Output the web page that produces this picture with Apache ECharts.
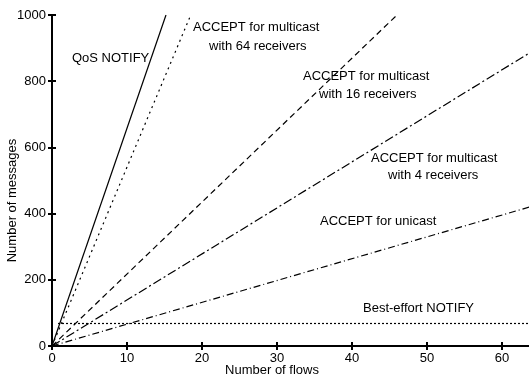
<!DOCTYPE html>
<html>
<head>
<meta charset="utf-8">
<script src="https://cdn.jsdelivr.net/npm/echarts@6/dist/echarts.min.js"></script>
<style>
  html, body { margin: 0; padding: 0; background: #fff; }
  #chart { width: 529px; height: 378px; }
</style>
</head>
<body>
<div id="chart"></div>
<script>
// values (number of flows, number of messages)
const qosNotify = [[0, 0], [15.2, 1000]];
const accept64 = [[0, 0], [18.5, 1000]];
const accept16 = [[0, 0], [46, 1000]];
const accept4 = [[0, 0], [64, 890]];
const acceptUnicast = [[0, 0], [64, 422]];
const bestEffort = [[0.8, 68], [64, 68]];

const xTicks = [0, 10, 20, 30, 40, 50, 60];
const yTicks = [0, 200, 400, 600, 800, 1000];

const font = 'Liberation Sans, Arial, sans-serif';

let myChart = echarts.init(document.getElementById('chart'));

function line(data, type) {
  return {
    type: 'line',
    data: data,
    symbol: 'none',
    clip: true,
    lineStyle: { color: '#000', width: 1.2, type: type },
    animation: false
  };
}

function label(x, y, text) {
  return { type: 'text', left: x, top: y, style: { text: text, font: '13px ' + font, fill: '#000' } };
}

const tick = { inside: true, length: 4, lineStyle: { color: '#000', width: 2 } };
const axisLine = { lineStyle: { color: '#000', width: 2 } };

myChart.setOption({
  backgroundColor: '#fff',
  grid: { left: 52, top: 15, width: 480, height: 331, outerBoundsMode: 'none', containLabel: false },
  xAxis: [{
    type: 'value',
    min: 0, max: 64, interval: 10,
    name: 'Number of flows',
    nameLocation: 'middle',
    nameGap: 18,
    nameMoveOverlap: false,
    nameTextStyle: { color: '#000', fontSize: 13, fontFamily: font, padding: [0, 40, 0, 0] },
    axisLine: axisLine,
    axisTick: tick,
    axisLabel: {
      color: '#000', fontSize: 13, fontFamily: font, margin: 6,
      formatter: v => xTicks.indexOf(v) >= 0 ? String(v) : ''
    },
    splitLine: { show: false }
  }, {
    type: 'value', position: 'top',
    min: 0, max: 64, interval: 10,
    axisLine: axisLine, axisTick: tick,
    axisLabel: { show: false }, splitLine: { show: false }
  }],
  yAxis: [{
    type: 'value',
    min: 0, max: 1000, interval: 200,
    name: 'Number of messages',
    nameLocation: 'middle',
    nameGap: 33,
    nameMoveOverlap: false,
    nameTextStyle: { color: '#000', fontSize: 13, fontFamily: font, padding: [0, 40, 0, 0] },
    axisLine: axisLine,
    axisTick: tick,
    axisLabel: {
      color: '#000', fontSize: 13, fontFamily: font, margin: 6,
      formatter: v => yTicks.indexOf(v) >= 0 ? String(v) : ''
    },
    splitLine: { show: false }
  }, {
    type: 'value', position: 'right',
    min: 0, max: 1000, interval: 200,
    axisLine: axisLine, axisTick: tick,
    axisLabel: { show: false }, splitLine: { show: false }
  }],
  graphic: [
    label(72, 52, 'QoS NOTIFY'),
    label(193, 21, 'ACCEPT for multicast'),
    label(209, 40, 'with 64 receivers'),
    label(303, 70, 'ACCEPT for multicast'),
    label(319, 88, 'with 16 receivers'),
    label(371, 152, 'ACCEPT for multicast'),
    label(388, 169, 'with 4 receivers'),
    label(320, 215, 'ACCEPT for unicast'),
    label(363, 302, 'Best-effort NOTIFY')
  ],
  series: [
    line(qosNotify, 'solid'),
    line(accept64, [2, 4]),
    line(accept16, [6, 4]),
    line(accept4, [9, 3, 2, 3]),
    line(acceptUnicast, [7, 3, 1, 3]),
    line(bestEffort, [2, 2])
  ]
});
</script>
</body>
</html>
